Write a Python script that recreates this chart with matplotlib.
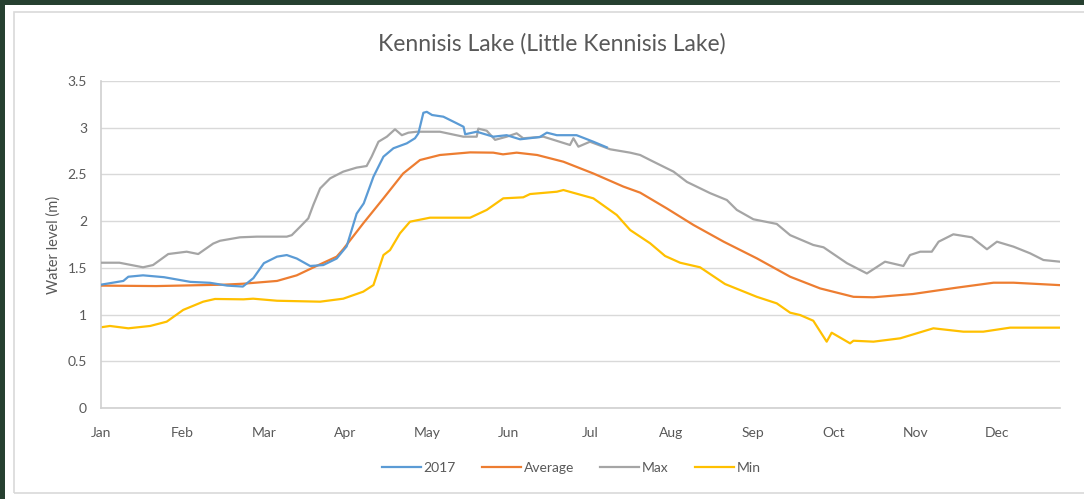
import matplotlib.pyplot as plt
from matplotlib.patches import Rectangle

# day of year (0..365) and water level (m)
day_2017 = [0, 8.5, 10.4, 16, 24, 34, 41.5, 48, 54, 58, 62, 67, 70.7, 74.5, 79.6, 84.6, 89.7,
            93.5, 97.3, 100, 103.7, 107.5, 111.3, 116.4, 119.5, 120.8, 122.7, 124, 126, 130.3,
            135.4, 138, 138.6, 143, 149.3, 154.4, 159.5, 167, 169.7, 173.5, 181, 187.4, 192.5]
lvl_2017 = [1.32, 1.36, 1.405, 1.42, 1.40, 1.35, 1.34, 1.31, 1.30, 1.39, 1.55, 1.62, 1.637, 1.60,
            1.52, 1.53, 1.60, 1.73, 2.08, 2.19, 2.476, 2.69, 2.78, 2.833, 2.887, 2.94, 3.16, 3.17,
            3.136, 3.118, 3.047, 3.01, 2.93, 2.957, 2.904, 2.92, 2.876, 2.90, 2.947, 2.92, 2.92,
            2.85, 2.79]

day_avg = [0, 21, 46.6, 54, 67, 74.5, 82, 89.7, 92.2, 99.8, 107.5, 115, 121.4, 129, 140.5, 149.3,
           153, 158.2, 166, 176, 187.4, 198.8, 205.2, 215.3, 225.5, 237, 249.6, 262.3, 273.7,
           286.4, 294, 309, 325.7, 339.7, 347.3, 365]
lvl_avg = [1.31, 1.305, 1.32, 1.33, 1.36, 1.42, 1.52, 1.62, 1.70, 1.976, 2.244, 2.51, 2.654, 2.708,
           2.736, 2.733, 2.715, 2.733, 2.708, 2.636, 2.51, 2.37, 2.305, 2.137, 1.959, 1.78, 1.602,
           1.405, 1.28, 1.19, 1.185, 1.22, 1.288, 1.341, 1.341, 1.315]

day_max = [0, 7, 16, 19.8, 25.6, 32.6, 37, 42.7, 45.3, 52.9, 59.3, 70.7, 72.6, 75.8, 78.9, 80.8,
           83.4, 87.2, 92.2, 97.3, 101.1, 103, 105.6, 108.8, 111.9, 114.5, 117, 120.2, 129,
           137.9, 143, 143.6, 146.8, 150, 154.4, 158.2, 160.7, 168.4, 178.5, 179.8, 181.7, 186.1,
           193.8, 201.4, 205.2, 209, 217.9, 223, 231.8, 238.2, 242, 248.3, 257.2, 262.3, 271.1,
           275, 283.9, 291.5, 298.4, 305.4, 307.9, 311.8, 316.2, 318.8, 324.4, 331.4, 337.2,
           341, 347.3, 353.6, 358.7, 365]
lvl_max = [1.555, 1.555, 1.506, 1.53, 1.648, 1.673, 1.648, 1.76, 1.79, 1.827, 1.834, 1.834, 1.85,
           1.94, 2.03, 2.173, 2.35, 2.458, 2.53, 2.573, 2.59, 2.69, 2.85, 2.904, 2.983, 2.92,
           2.947, 2.957, 2.957, 2.904, 2.904, 2.99, 2.968, 2.87, 2.904, 2.94, 2.887, 2.904,
           2.815, 2.887, 2.797, 2.85, 2.769, 2.733, 2.708, 2.654, 2.53, 2.42, 2.30, 2.226,
           2.12, 2.02, 1.97, 1.85, 1.745, 1.72, 1.55, 1.44, 1.566, 1.52, 1.637, 1.673, 1.673,
           1.78, 1.859, 1.827, 1.699, 1.78, 1.727, 1.656, 1.584, 1.566]

day_min = [0, 3.4, 10.4, 18.7, 25, 31.3, 38.9, 43.4, 54.2, 57.9, 67, 83.4, 92.2, 99.8, 103.7,
           107.5, 110, 113.8, 117.6, 125.2, 140.5, 146.8, 153.1, 160.7, 163.3, 173.5, 176,
           187.4, 196.3, 201.4, 209, 214.7, 220.4, 228, 237.5, 249.6, 257.2, 262.3, 266.1,
           271.1, 276.2, 278.1, 285.1, 286.4, 294, 304.2, 316.8, 328.2, 335.8, 346, 365]
lvl_min = [0.864, 0.878, 0.853, 0.878, 0.924, 1.05, 1.138, 1.167, 1.163, 1.17, 1.148, 1.138,
           1.17, 1.245, 1.316, 1.637, 1.69, 1.87, 1.994, 2.037, 2.037, 2.12, 2.244, 2.255, 2.29,
           2.315, 2.333, 2.244, 2.066, 1.905, 1.763, 1.627, 1.555, 1.506, 1.327, 1.19, 1.12,
           1.02, 0.995, 0.934, 0.71, 0.806, 0.692, 0.72, 0.71, 0.746, 0.853, 0.817, 0.817,
           0.86, 0.86]

months = ['Jan', 'Feb', 'Mar', 'Apr', 'May', 'Jun', 'Jul', 'Aug', 'Sep', 'Oct', 'Nov', 'Dec']

plt.rcParams['font.family'] = ['Lato', 'DejaVu Sans']
txt = '#595959'

fig = plt.figure(figsize=(10.84, 4.99), dpi=100, facecolor='#264030')
# white panel and light chart border
fig.patches.append(Rectangle((5 / 1084, 0), 1, 1 - 5 / 499, transform=fig.transFigure,
                             facecolor='white', edgecolor='none', zorder=-2))
fig.patches.append(Rectangle((14 / 1084, 6 / 499), 1.0, (493 - 12) / 499, transform=fig.transFigure,
                             facecolor='none', edgecolor='#d9d9d9', linewidth=1.2, zorder=-1))

ax = fig.add_axes([101 / 1084, 1 - 408 / 499, 959 / 1084, 327 / 499])
ax.set_facecolor('none')

ax.plot(day_2017, lvl_2017, color='#5B9BD5', lw=1.6, label='2017', zorder=5)
ax.plot(day_avg, lvl_avg, color='#ED7D31', lw=1.6, label='Average', zorder=4)
ax.plot(day_max, lvl_max, color='#A5A5A5', lw=1.6, label='Max', zorder=3)
ax.plot(day_min, lvl_min, color='#FFC000', lw=1.6, label='Min', zorder=2)

ax.set_xlim(0, 365)
ax.set_ylim(0, 3.5)
ax.set_yticks([0, 0.5, 1, 1.5, 2, 2.5, 3, 3.5])
ax.set_yticklabels(['0', '0.5', '1', '1.5', '2', '2.5', '3', '3.5'])
ax.set_xticks([31 * i for i in range(12)])
ax.set_xticklabels(months)
ax.tick_params(length=0, colors=txt, labelsize=10)
ax.tick_params(axis='x', pad=14)
ax.tick_params(axis='y', pad=10)
ax.grid(axis='y', color='#d9d9d9', lw=1)
ax.set_axisbelow(True)
for s in ['top', 'right']:
    ax.spines[s].set_visible(False)
for s in ['left', 'bottom']:
    ax.spines[s].set_color('#d0d0d0')
    ax.spines[s].set_linewidth(1.2)

ax.set_ylabel('Water level (m)', color=txt, fontsize=10.5, labelpad=5)
fig.text(0.509, 0.912, 'Kennisis Lake (Little Kennisis Lake)', ha='center', va='center',
         color=txt, fontsize=16.5)

fig.legend(loc='center', bbox_to_anchor=(0.527, 0.062), ncol=4, frameon=False,
           fontsize=10, handlelength=2.8, handletextpad=0.2, columnspacing=1.9,
           labelcolor=txt)

fig.savefig('out.png', dpi=100, facecolor=fig.get_facecolor())
